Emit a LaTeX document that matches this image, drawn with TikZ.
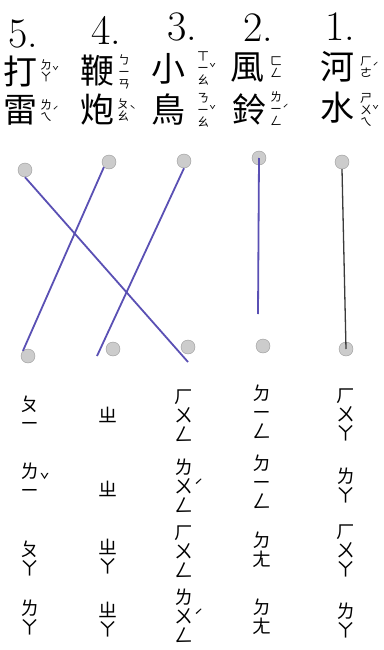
\documentclass[tikz,border=0pt]{standalone}
\usepackage{fontspec}
\newfontfamily\cjk{Noto Sans CJK TC}
\usepackage{xcolor}
\usepackage{tikz}
\usetikzlibrary{positioning}
\definecolor{penBlue}{HTML}{5A50B4}
\definecolor{penDark}{HTML}{3A3A3A}

\begin{document}
\begin{tikzpicture}[x=1pt,y=-1pt,
  num/.style={font=\fontsize{42}{42}\selectfont,inner sep=0pt},
  hz/.style={font=\cjk\fontsize{34}{34}\selectfont,inner sep=0pt},
  zy/.style={font=\cjk\fontsize{12}{12}\selectfont,align=center,inner sep=0pt},
  zybig/.style={font=\cjk\fontsize{19}{19}\selectfont,align=center,inner sep=0pt},
  tone/.style={font=\cjk\fontsize{11}{11}\selectfont,inner sep=0pt},
  tonebig/.style={font=\cjk\fontsize{16}{16}\selectfont,inner sep=0pt},
  bead/.style={circle,draw=gray!80,fill=gray!40,minimum size=14pt,inner sep=0pt},
  link/.style={line width=1.8pt,penBlue}]
\fill[white] (0,0) rectangle (383,650);
\useasboundingbox (0,0) rectangle (383,650);
% 5: 打雷
\node[num] (n5) at (23,34) {5.};
\node[hz] (w5a) at (21,71) {打};
\node[hz] (w5b) at (21,110) {雷};
\node[zy,label={[tone]east:ˇ}] (z5a) at (46,71) {ㄉ\\ㄚ};
\node[zy,label={[tone]east:ˊ}] (z5b) at (46,111) {ㄌ\\ㄟ};
% 4: 鞭炮
\node[num] (n4) at (106,30) {4.};
\node[hz] (w4a) at (97,71) {鞭};
\node[hz] (w4b) at (97,110) {炮};
\node[zy] (z4a) at (124,72) {ㄅ\\ㄧ\\ㄢ};
\node[zy,label={[tone]east:ˋ}] (z4b) at (123,110) {ㄆ\\ㄠ};
% 3: 小鳥
\node[num] (n3) at (182,27) {3.};
\node[hz] (w3a) at (168,69) {小};
\node[hz] (w3b) at (168,110) {鳥};
\node[zy,label={[tone]east:ˇ}] (z3a) at (203,68) {ㄒ\\ㄧ\\ㄠ};
\node[zy,label={[tone]east:ˇ}] (z3b) at (203,110) {ㄋ\\ㄧ\\ㄠ};
% 2: 風鈴
\node[num] (n2) at (258,28) {2.};
\node[hz] (w2a) at (247,68) {風};
\node[hz] (w2b) at (249,109) {鈴};
\node[zy] (z2a) at (276,67) {ㄈ\\ㄥ};
\node[zy,label={[tone]east:ˊ}] (z2b) at (276,109) {ㄌ\\ㄧ\\ㄥ};
% 1: 河水
\node[num] (n1) at (340,27) {1.};
\node[hz] (w1a) at (337,67) {河};
\node[hz] (w1b) at (337,108) {水};
\node[zy,label={[tone]east:ˊ}] (z1a) at (366,67) {ㄏ\\ㄜ};
\node[zy,label={[tone]east:ˇ}] (z1b) at (366,110) {ㄕ\\ㄨ\\ㄟ};

% dots
\node[bead] (t5) at (25,170) {};
\node[bead] (t4) at (109,162) {};
\node[bead] (t3) at (184,161) {};
\node[bead] (t2) at (259,158) {};
\node[bead] (t1) at (342,162) {};
\node[bead] (b5) at (28,356) {};
\node[bead] (b4) at (113,349) {};
\node[bead] (b3) at (188,347) {};
\node[bead] (b2) at (263,346) {};
\node[bead] (b1) at (346,349) {};

% sounds
\node[zybig] (s1a) at (346,415) {ㄏ\\ㄨ\\ㄚ};
\node[zybig] (s1b) at (346,485) {ㄌ\\ㄚ};
\node[zybig] (s1c) at (346,551) {ㄏ\\ㄨ\\ㄚ};
\node[zybig] (s1d) at (346,620) {ㄌ\\ㄚ};
\node[zybig] (s2a) at (262,412) {ㄉ\\ㄧ\\ㄥ};
\node[zybig] (s2b) at (262,482) {ㄉ\\ㄧ\\ㄥ};
\node[zybig] (s2c) at (262,550) {ㄉ\\ㄤ};
\node[zybig] (s2d) at (262,617) {ㄉ\\ㄤ};
\node[zybig] (s3a) at (184,416) {ㄏ\\ㄨ\\ㄥ};
\node[zybig,label={[tonebig]east:ˊ}] (s3b) at (184,486) {ㄌ\\ㄨ\\ㄥ};
\node[zybig] (s3c) at (184,552) {ㄏ\\ㄨ\\ㄥ};
\node[zybig,label={[tonebig]east:ˊ}] (s3d) at (184,616) {ㄌ\\ㄨ\\ㄥ};
\node[zybig] (s4a) at (108,415) {ㄓ};
\node[zybig] (s4b) at (108,489) {ㄓ};
\node[zybig] (s4c) at (108,557) {ㄓ\\ㄚ};
\node[zybig] (s4d) at (108,620) {ㄓ\\ㄚ};
\node[zybig] (s5a) at (30,413) {ㄆ\\ㄧ};
\node[zybig,label={[tonebig]east:ˇ}] (s5b) at (30,480) {ㄌ\\ㄧ};
\node[zybig] (s5c) at (30,558) {ㄆ\\ㄚ};
\node[zybig] (s5d) at (30,617) {ㄌ\\ㄚ};

% pen lines
\coordinate (e2) at (258,314);
\coordinate (e3) at (97,356);
\coordinate (e5) at (188,362);
\draw[line width=1.3pt,penDark] (t1.south) -- (b1.center);
\draw[link] (t2.center) -- (e2);
\draw[link] (t3.south) -- (e3);
\draw[link] (t4.south west) -- (b5.north west);
\draw[link] (t5.south) -- (e5);
\end{tikzpicture}
\end{document}
